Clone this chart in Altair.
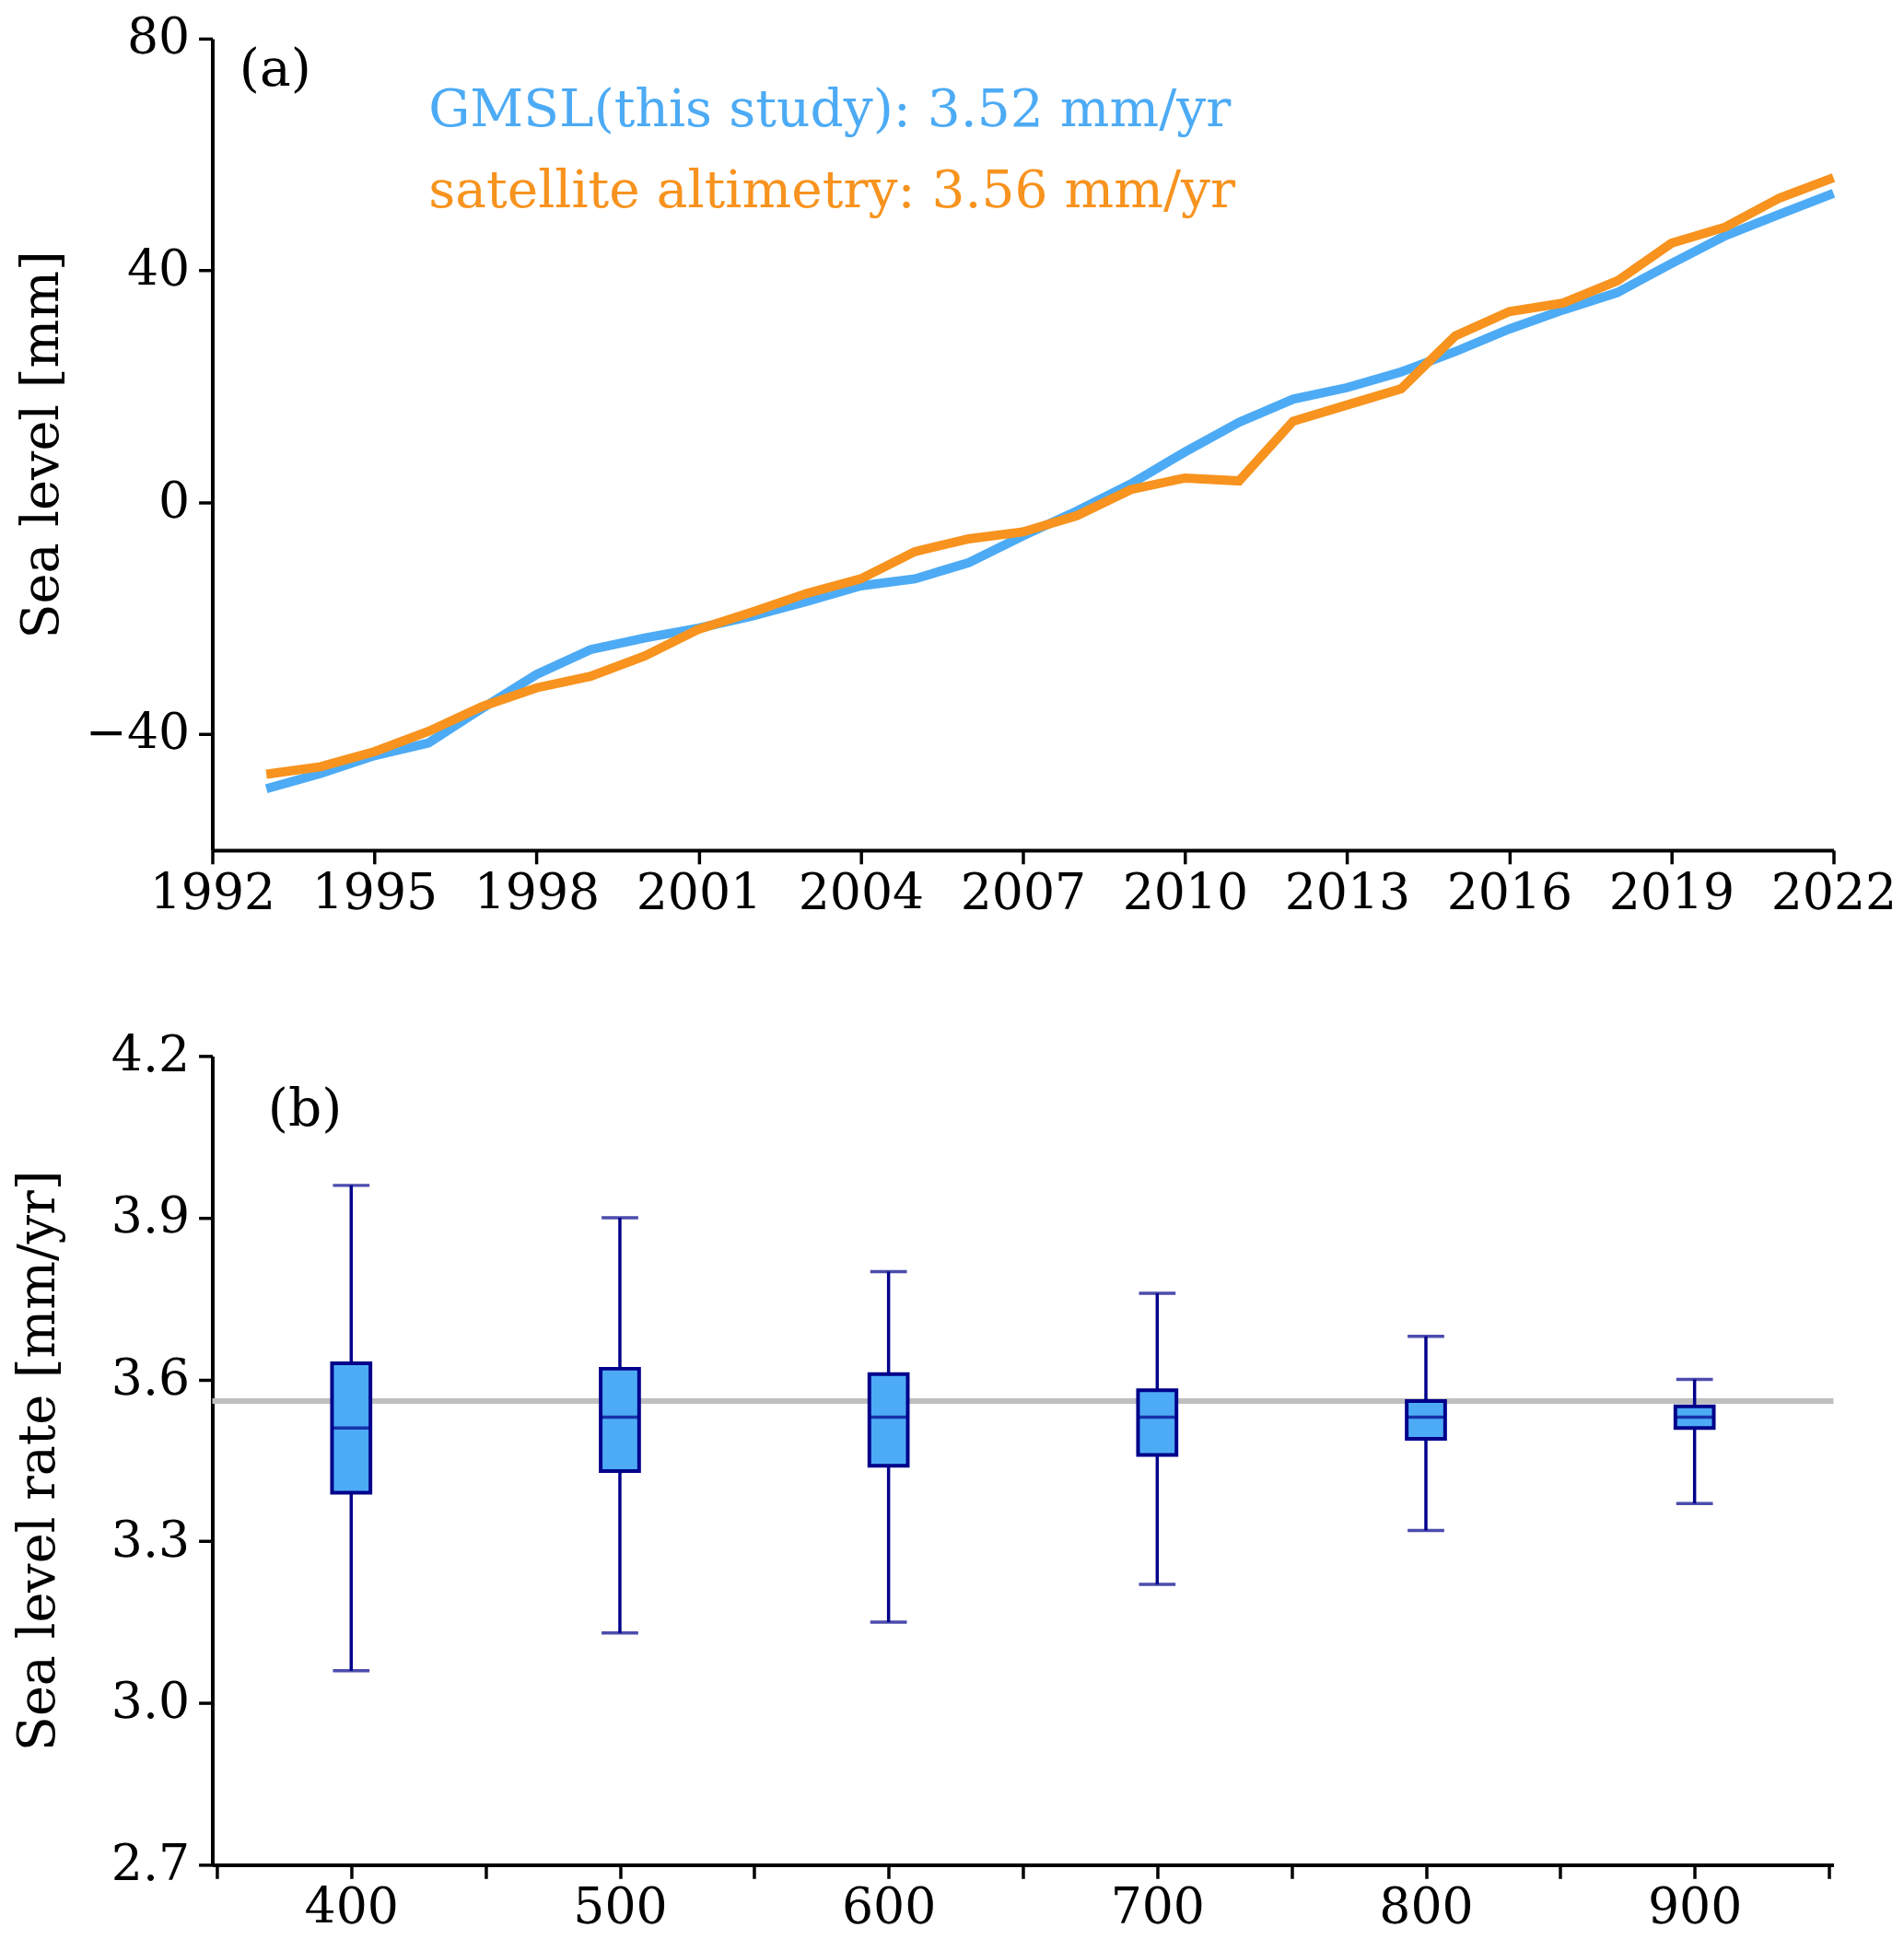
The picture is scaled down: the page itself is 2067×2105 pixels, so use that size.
import altair as alt
import pandas as pd

# ---------------- Panel (a) data ----------------
years = list(range(1993, 2023))
gmsl = [-49.4, -46.8, -43.7, -41.5, -35.5, -29.7, -25.4, -23.4, -21.7, -19.6,
        -17.1, -14.4, -13.2, -10.4, -5.8, -1.5, 3.2, 8.7, 13.8, 17.8,
        19.8, 22.5, 26.0, 29.9, 33.2, 36.2, 41.2, 46.0, 49.7, 53.3]
altimetry = [-46.9, -45.6, -43.0, -39.5, -35.2, -32.0, -30.0, -26.5, -21.9, -18.9,
             -15.7, -13.2, -8.5, -6.3, -5.1, -2.3, 2.2, 4.2, 3.7, 14.0,
             16.8, 19.6, 28.7, 32.9, 34.4, 38.2, 44.7, 47.5, 52.5, 56.0]
series_names = ["GMSL(this study)", "satellite altimetry"]
year_ticks = list(range(1992, 2023, 3))
sl_ticks = [-40, 0, 40, 80]

# annotations (data coordinates)
ann_text = ["(a)", "GMSL(this study): 3.52 mm/yr", "satellite altimetry: 3.56 mm/yr"]
ann_x = [1992.5, 1996.0, 1996.0]
ann_y = [74.5, 67.6, 53.6]
ann_col = ["black", "#4DABF5", "#F7931E"]

# ---------------- Panel (b) data ----------------
ns = [400, 500, 600, 700, 800, 900]
whisk_lo = [3.06, 3.13, 3.15, 3.22, 3.32, 3.37]
q1 = [3.39, 3.43, 3.44, 3.46, 3.49, 3.51]
med = [3.51, 3.53, 3.53, 3.53, 3.53, 3.53]
q3 = [3.63, 3.62, 3.61, 3.58, 3.56, 3.55]
whisk_hi = [3.96, 3.90, 3.80, 3.76, 3.68, 3.60]
ref_rate = [3.56]
n_ticks = list(range(350, 951, 50))
rate_ticks = [2.7, 3.0, 3.3, 3.6, 3.9, 4.2]

BLUE = "#4DABF5"
ORANGE = "#F7931E"
NAVY = "#00008B"
FONT = "DejaVu Serif"
FS = 54
TFS = 56
AFS = 57

W = 1772

# ---------------- Panel (a) ----------------
df_a = pd.DataFrame({
    "year": years * 2,
    "value": gmsl + altimetry,
    "series": [series_names[0]] * len(years) + [series_names[1]] * len(years),
})

xa = alt.X("year:Q", scale=alt.Scale(domain=[1992, 2022], nice=False, zero=False),
           axis=alt.Axis(values=year_ticks, format="d", title=None))
ya = alt.Y("value:Q", scale=alt.Scale(domain=[-60, 80], nice=False, zero=False),
           axis=alt.Axis(values=sl_ticks, title="Sea level [mm]", titlePadding=18))

lines = alt.Chart(df_a).mark_line(strokeWidth=10, strokeCap="butt", strokeJoin="miter").encode(
    x=xa, y=ya,
    color=alt.Color("series:N", scale=alt.Scale(domain=series_names, range=[BLUE, ORANGE]), legend=None),
    detail="series:N",
)
blue_line = lines.transform_filter(alt.datum.series == series_names[0])
orange_line = lines.transform_filter(alt.datum.series == series_names[1])

df_ann = pd.DataFrame({"t": ann_text, "x": ann_x, "y": ann_y, "c": ann_col})
ann = alt.Chart(df_ann).mark_text(align="left", baseline="middle", font=FONT, fontSize=AFS).encode(
    x=alt.X("x:Q"), y=alt.Y("y:Q"), text="t:N", color=alt.Color("c:N", scale=None)
)

panel_a = alt.layer(blue_line, orange_line, ann).properties(width=W, height=887)

# ---------------- Panel (b) ----------------
df_b = pd.DataFrame({"n": ns, "lo": whisk_lo, "q1": q1, "med": med, "q3": q3, "hi": whisk_hi})

xb = alt.X("n:Q", scale=alt.Scale(domain=[350, 950], nice=False, zero=False),
           axis=alt.Axis(values=n_ticks, title=None,
                         labelExpr="datum.value % 100 == 0 ? datum.label : ''"))
yscale_b = alt.Scale(domain=[2.7, 4.2], nice=False, zero=False)

ref = alt.Chart(pd.DataFrame({"v": ref_rate})).mark_rule(color="#BFBFBF", strokeWidth=6).encode(
    y=alt.Y("v:Q", scale=yscale_b,
            axis=alt.Axis(values=rate_ticks, format=".1f", title="Sea level rate [mm/yr]",
                          titlePadding=50))
)
base_b = alt.Chart(df_b)
whisk = base_b.mark_rule(color=NAVY, strokeWidth=3.5).encode(
    x=xb, y=alt.Y("lo:Q", scale=yscale_b), y2="hi:Q")
box = base_b.mark_bar(size=42, color=BLUE, stroke=NAVY, strokeWidth=4).encode(
    x=xb, y=alt.Y("q1:Q", scale=yscale_b), y2="q3:Q")
median = base_b.mark_tick(orient="horizontal", size=42, thickness=3.5, color=NAVY).encode(
    x=xb, y=alt.Y("med:Q", scale=yscale_b))
cap_lo = base_b.mark_tick(orient="horizontal", size=40, thickness=3.5, color=NAVY).encode(
    x=xb, y=alt.Y("lo:Q", scale=yscale_b))
cap_hi = base_b.mark_tick(orient="horizontal", size=40, thickness=3.5, color=NAVY).encode(
    x=xb, y=alt.Y("hi:Q", scale=yscale_b))

lbl_b = alt.Chart(pd.DataFrame({"t": ["(b)"], "x": [369], "y": [4.1]})).mark_text(
    align="left", baseline="middle", font=FONT, fontSize=AFS, color="black").encode(
    x="x:Q", y=alt.Y("y:Q", scale=yscale_b), text="t:N")

panel_b = alt.layer(ref, whisk, box, median, cap_lo, cap_hi, lbl_b).properties(width=W, height=884)

chart = alt.vconcat(panel_a, panel_b, spacing=123).properties(
    padding={"left": 6, "top": 0, "right": 0, "bottom": 0}
).configure_view(stroke=None).configure_axis(
    grid=False,
    domainColor="black", domainWidth=4,
    tickColor="black", tickWidth=3.5, tickSize=15,
    labelFont=FONT, labelFontSize=FS, labelColor="black",
    titleFont=FONT, titleFontSize=TFS, titleColor="black", titleFontWeight="normal",
    labelFlush=False, labelOverlap=False,
).configure_axisX(labelPadding=6).configure_axisY(labelPadding=10)

chart.save("out.html", embed_options={"renderer": "svg", "actions": False})
